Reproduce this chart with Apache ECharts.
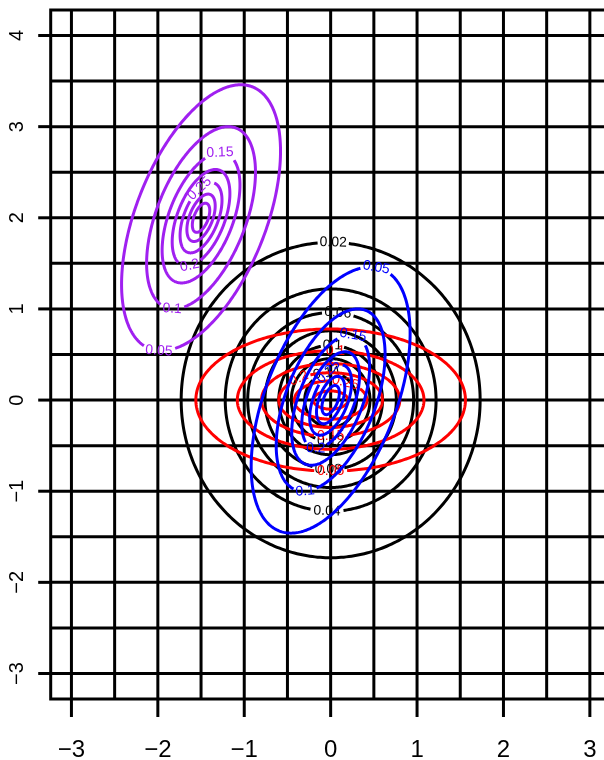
<!DOCTYPE html>
<html>
<head>
<meta charset="utf-8">
<script src="https://cdn.jsdelivr.net/npm/echarts@6/dist/echarts.min.js"></script>
<style>
  html, body { margin: 0; padding: 0; overflow: hidden; background: #fff; }
  #chart { width: 620px; height: 760px; }
</style>
</head>
<body>
<div id="chart"></div>
<script>
// axis ticks and grid lines
const xTicks = [-3, -2, -1, 0, 1, 2, 3];
const yTicks = [-3, -2, -1, 0, 1, 2, 3, 4];
const gridX = [-3, -2.5, -2, -1.5, -1, -0.5, 0, 0.5, 1, 1.5, 2, 2.5, 3];
const gridY = [-3, -2.5, -2, -1.5, -1, -0.5, 0, 0.5, 1, 1.5, 2, 2.5, 3, 3.5, 4];

// black density: circles round (0,0)
const blackCenter = [0, 0];
const blackShape = [1, 0]; // x/y ratio, correlation
const blackLevels = ["0.02", "0.04", "0.06", "0.08", "0.1", "0.12", "0.14"];
const blackSize = [1.73, 1.22, 0.96, 0.76, 0.6, 0.455, 0.3];
const blackLabelAt = [[0.03, 1.7], [-0.05, -1.23], [0.08, 0.9], [-0.03, -0.71], [0.02, 0.6], [0, -0.46], [-0.05, 0.3]];

// purple density round (-1.5, 2)
const purpleCenter = [-1.5, 2];
const purpleShape = [0.63, 0.5];
const purpleLevels = ["0.05", "0.1", "0.15", "0.2", "0.25", "0.3", "0.35"];
const purpleSize = [1.46, 1.0, 0.715, 0.53, 0.385, 0.26, 0.16];
const purpleLabelAt = [[-1.99, 0.565], [-1.83, 1.02], [-1.28, 2.65], [-1.63, 1.47], [-1.46, 2.26], null, null];

// blue density round (0,0), same shape as purple
const blueCenter = [0, 0];
const blueShape = [0.63, 0.5];
const blueLevels = ["0.05", "0.1", "0.15", "0.2", "0.25", "0.3", "0.35"];
const blueSize = [1.46, 1.0, 0.715, 0.53, 0.385, 0.26, 0.16];
const blueLabelAt = [[0.51, 1.39], [-0.3, -0.99], [0.24, 0.62], [-0.17, -0.48], [0.05, 0.24], null, null];

// red density round (0,0), wide
const redCenter = [0, 0];
const redShape = [2, 0];
const redLevels = ["0.05", "0.1", "0.15", "0.2", "0.25", "0.3"];
const redSize = [0.78, 0.54, 0.4, 0.3, 0.21, 0.1];
const redLabelAt = [[0, -0.78], [0.05, 0.54], [0, -0.4], [-0.36, 0.22], [0.16, 0.14], null];

const FONT = "'Liberation Sans', Arial, sans-serif";
const NARROW = "'Liberation Sans Narrow', 'Liberation Sans', Arial, sans-serif";
const LW = 3;

function textWidth(s, size) {
  let w = 0;
  for (const ch of s) w += (ch === "." ? 0.278 : 0.556);
  return w * size;
}

function minus(v) {
  return v < 0 ? "\u2212" + Math.abs(v) : String(v);
}

function contourSeries(name, color, center, shape, levels, sizes, labelAt) {
  const a = shape[0], rho = shape[1];
  const s = Math.sqrt(1 - rho * rho);
  return {
    name: name,
    type: "custom",
    coordinateSystem: "cartesian2d",
    silent: true,
    data: sizes.map((v, i) => [center[0], center[1], i]),
    renderItem: (params, api) => {
      const i = api.value(2);
      const h = sizes[i];
      const N = 360;
      const pts = [];
      for (let k = 0; k < N; k++) {
        const t = (2 * Math.PI * k) / N;
        const x = center[0] + h * a * Math.cos(t);
        const y = center[1] + h * (rho * Math.cos(t) + s * Math.sin(t));
        pts.push(api.coord([x, y]));
      }
      const lab = labelAt[i];
      if (!lab) {
        return {
          type: "polyline",
          shape: { points: pts.concat([pts[0]]) },
          style: { stroke: color, lineWidth: LW, fill: null }
        };
      }
      // nearest point to the label anchor
      const p0 = api.coord(lab);
      let best = 0, bd = Infinity;
      pts.forEach((p, k) => {
        const d = (p[0] - p0[0]) ** 2 + (p[1] - p0[1]) ** 2;
        if (d < bd) { bd = d; best = k; }
      });
      const c = pts[best];
      const pa = pts[(best - 2 + N) % N], pb = pts[(best + 2) % N];
      let ang = Math.atan2(-(pb[1] - pa[1]), pb[0] - pa[0]);
      if (ang > Math.PI / 2) ang -= Math.PI;
      if (ang < -Math.PI / 2) ang += Math.PI;
      const fs = 14;
      const half = textWidth(levels[i], fs) / 2 + 2;
      // gap in the line where the label sits
      let kEnd = best, kStart = best;
      for (let k = 1; k < N / 2; k++) {
        const p = pts[(best + k) % N];
        if (Math.hypot(p[0] - c[0], p[1] - c[1]) > half) { kEnd = best + k; break; }
      }
      for (let k = 1; k < N / 2; k++) {
        const p = pts[(best - k + N) % N];
        if (Math.hypot(p[0] - c[0], p[1] - c[1]) > half) { kStart = best - k; break; }
      }
      const line = [];
      const total = N - (kEnd - kStart);
      for (let k = 0; k <= total; k++) line.push(pts[(kEnd + k + N) % N]);
      return {
        type: "group",
        children: [
          {
            type: "polyline",
            shape: { points: line },
            style: { stroke: color, lineWidth: LW, fill: null }
          },
          {
            type: "text",
            x: c[0],
            y: c[1],
            rotation: ang,
            style: {
              text: levels[i],
              fill: color,
              font: fs + "px " + FONT,
              align: "center",
              verticalAlign: "middle"
            }
          }
        ]
      };
    }
  };
}

const chart = echarts.init(document.getElementById("chart"));
const option = {
  animation: false,
  backgroundColor: "#fff",
  grid: {
    left: 50.7,
    top: 10,
    bottom: 61,
    right: 9.4,
    containLabel: false,
    outerBoundsMode: "none",
    show: true,
    borderColor: "#000",
    borderWidth: LW,
    backgroundColor: "transparent"
  },
  xAxis: {
    type: "value",
    min: -3.24,
    max: 3.24,
    axisLine: { show: false },
    splitLine: { show: false },
    axisTick: { show: false },
    axisLabel: {
      customValues: xTicks,
      color: "#000",
      fontSize: 24,
      fontFamily: NARROW,
      margin: 39,
      formatter: minus
    }
  },
  yAxis: {
    type: "value",
    min: -3.28,
    max: 4.28,
    axisLine: { show: false },
    splitLine: { show: false },
    axisTick: { show: false },
    axisLabel: {
      customValues: yTicks,
      color: "#000",
      fontSize: 20,
      fontFamily: FONT,
      rotate: 90,
      margin: 23,
      formatter: minus
    }
  },
  series: [
    {
      name: "gridX",
      type: "custom",
      coordinateSystem: "cartesian2d",
      silent: true,
      data: gridX.map(v => [v, 0]),
      renderItem: (params, api) => {
        const p = api.coord([api.value(0), 0]);
        const cs = params.coordSys;
        return {
          type: "line",
          shape: { x1: p[0], y1: cs.y, x2: p[0], y2: cs.y + cs.height },
          style: { stroke: "#000", lineWidth: LW }
        };
      }
    },
    {
      name: "gridY",
      type: "custom",
      coordinateSystem: "cartesian2d",
      silent: true,
      data: gridY.map(v => [0, v]),
      renderItem: (params, api) => {
        const p = api.coord([0, api.value(1)]);
        const cs = params.coordSys;
        return {
          type: "line",
          shape: { x1: cs.x, y1: p[1], x2: cs.x + cs.width, y2: p[1] },
          style: { stroke: "#000", lineWidth: LW }
        };
      }
    },
    {
      name: "xTicks",
      type: "custom",
      coordinateSystem: "cartesian2d",
      silent: true,
      clip: false,
      data: xTicks.map(v => [v, 0]),
      renderItem: (params, api) => {
        const p = api.coord([api.value(0), 0]);
        const cs = params.coordSys;
        const y0 = cs.y + cs.height;
        return {
          type: "line",
          shape: { x1: p[0], y1: y0, x2: p[0], y2: y0 + 18 },
          style: { stroke: "#000", lineWidth: LW }
        };
      }
    },
    {
      name: "yTicks",
      type: "custom",
      coordinateSystem: "cartesian2d",
      silent: true,
      clip: false,
      data: yTicks.map(v => [0, v]),
      renderItem: (params, api) => {
        const p = api.coord([0, api.value(1)]);
        const cs = params.coordSys;
        return {
          type: "line",
          shape: { x1: cs.x - 12.5, y1: p[1], x2: cs.x, y2: p[1] },
          style: { stroke: "#000", lineWidth: LW }
        };
      }
    },
    contourSeries("black", "#000000", blackCenter, blackShape, blackLevels, blackSize, blackLabelAt),
    contourSeries("purple", "#A020F0", purpleCenter, purpleShape, purpleLevels, purpleSize, purpleLabelAt),
    contourSeries("red", "#FF0000", redCenter, redShape, redLevels, redSize, redLabelAt),
    contourSeries("blue", "#0000FF", blueCenter, blueShape, blueLevels, blueSize, blueLabelAt)
  ]
};
chart.setOption(option);
</script>
</body>
</html>
